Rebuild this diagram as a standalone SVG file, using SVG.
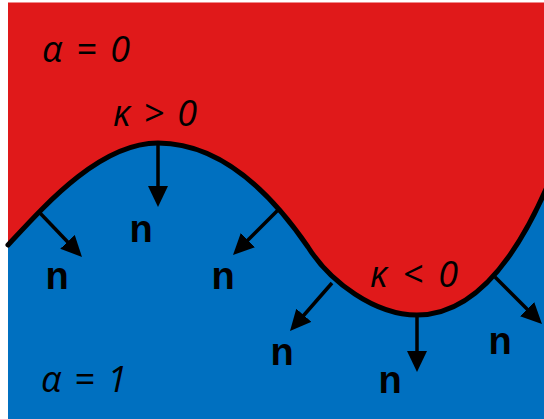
<svg xmlns="http://www.w3.org/2000/svg" width="544" height="419" viewBox="0 0 544 419">
  <style>
    .lbl { font-family: "Open Sans", "Liberation Sans", sans-serif; font-style: italic; font-size: 36px; fill: #000; }
    .n { font-family: "Liberation Sans", Arial, sans-serif; font-weight: bold; font-size: 38px; fill: #000; text-anchor: middle; }
    .arrow { stroke: #000; stroke-width: 3.5; fill: none; marker-end: url(#ah); }
    .iface { stroke: #000; stroke-width: 5; fill: none; stroke-linecap: round; stroke-linejoin: round; }
  </style>
  <defs>
    <marker id="ah" markerUnits="userSpaceOnUse" markerWidth="22" markerHeight="22" refX="9" refY="10" orient="auto">
      <path d="M0,0 L21,10 L0,20 Z" fill="#000"/>
    </marker>
  </defs>
  <rect width="544" height="419" fill="#ffffff"/>
  <g id="phase-alpha0">
    <rect x="8" y="2.5" width="536" height="416.5" fill="#E0191A"/>
  </g>
  <g id="phase-alpha1">
    <path d="M8,245 C45,205 100,143 158,143 C212,143 262,180 308,247 C330,282 375,315 417,315 C465,315 510,275 550,180 L550,419 L8,419 Z" fill="#0070C0"/>
  </g>
  <g id="interface">
    <path class="iface" d="M8,245 C45,205 100,143 158,143 C212,143 262,180 308,247 C330,282 375,315 417,315 C465,315 510,275 550,180"/>
  </g>
  <g id="connectors">
    <line class="arrow" x1="40" y1="213" x2="73.7" y2="248.3"/>
    <line class="arrow" x1="158" y1="143" x2="158" y2="195"/>
    <line class="arrow" x1="278" y1="210" x2="241.5" y2="246.5"/>
    <line class="arrow" x1="332" y1="283" x2="297.9" y2="322"/>
    <line class="arrow" x1="417" y1="315" x2="417" y2="360"/>
    <line class="arrow" x1="495" y1="277" x2="533.5" y2="315.5"/>
  </g>
  <g id="labels">
    <text class="lbl" x="42" y="62" textLength="88" lengthAdjust="spacing">α = 0</text>
    <text class="lbl" x="113" y="126" textLength="84" lengthAdjust="spacing">κ &gt; 0</text>
    <text class="lbl" x="370" y="287" textLength="88" lengthAdjust="spacing">κ &lt; 0</text>
    <text class="lbl" x="41" y="392" textLength="86" lengthAdjust="spacing">α = 1</text>
  </g>
  <g id="normals">
    <text class="n" x="57" y="289">n</text>
    <text class="n" x="141" y="242">n</text>
    <text class="n" x="223" y="289">n</text>
    <text class="n" x="282" y="365">n</text>
    <text class="n" x="390" y="393">n</text>
    <text class="n" x="500" y="354">n</text>
  </g>
</svg>
